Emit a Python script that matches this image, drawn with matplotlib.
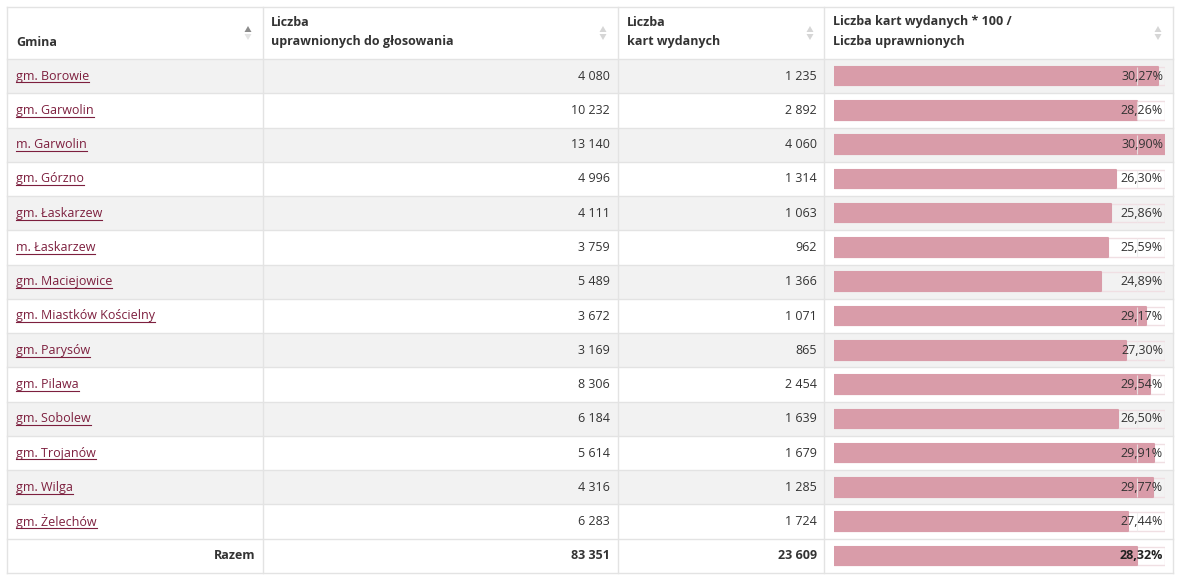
import matplotlib
matplotlib.use('Agg')
import matplotlib.pyplot as plt
from matplotlib.patches import Rectangle, Polygon
from matplotlib.lines import Line2D

plt.rcParams['font.family'] = ['Open Sans', 'DejaVu Sans']

# ---------------- data ----------------
gminy = ["gm. Borowie", "gm. Garwolin", "m. Garwolin", "gm. Górzno", "gm. Łaskarzew",
         "m. Łaskarzew", "gm. Maciejowice", "gm. Miastków Kościelny", "gm. Parysów",
         "gm. Pilawa", "gm. Sobolew", "gm. Trojanów", "gm. Wilga", "gm. Żelechów"]
uprawnieni = [4080, 10232, 13140, 4996, 4111, 3759, 5489, 3672, 3169, 8306, 6184, 5614, 4316, 6283]
karty = [1235, 2892, 4060, 1314, 1063, 962, 1366, 1071, 865, 2454, 1639, 1679, 1285, 1724]
frekwencja = [30.27, 28.26, 30.90, 26.30, 25.86, 25.59, 24.89, 29.17, 27.30, 29.54,
              26.50, 29.91, 29.77, 27.44]
razem_label = "Razem"
razem_uprawnieni = 83351
razem_karty = 23609
razem_frekwencja = 28.32
naglowki = [["Gmina"],
            ["Liczba", "uprawnionych do głosowania"],
            ["Liczba", "kart wydanych"],
            ["Liczba kart wydanych * 100 /", "Liczba uprawnionych"]]

# ---------------- layout ----------------
W, H = 1199, 585
fig = plt.figure(figsize=(W / 100, H / 100), dpi=100)
ax = fig.add_axes([0, 0, 1, 1])
ax.set_xlim(0, W)
ax.set_ylim(H, 0)
ax.axis('off')

col_x = [7, 263, 618, 824, 1173]
top, head_bot, bottom = 7, 59, 573
n_rows = len(gminy) + 1
row_h = (bottom - head_bot) / n_rows

grey = '#f2f2f2'
line_c = '#e3e3e3'
text_c = '#333333'
link_c = '#7d1f3e'
bar_c = '#d99ca9'
fs = 9.0

# row backgrounds
for i in range(n_rows):
    y0 = head_bot + i * row_h
    if i % 2 == 0 and i < len(gminy):
        ax.add_patch(Rectangle((col_x[0], y0), col_x[-1] - col_x[0], row_h,
                               facecolor=grey, edgecolor='none', zorder=0))

# grid lines
for i in range(n_rows + 1):
    y = head_bot + i * row_h
    ax.plot([col_x[0], col_x[-1]], [y, y], color=line_c, lw=1, zorder=1)
ax.plot([col_x[0], col_x[-1]], [top, top], color=line_c, lw=1, zorder=1)
for x in col_x:
    ax.plot([x, x], [top, bottom], color=line_c, lw=1, zorder=1)

# headers
hx = [16, 271, 627, 833]
for j, lines in enumerate(naglowki):
    if len(lines) == 1:
        ax.text(hx[j], 42, lines[0], ha='left', va='center', fontsize=fs,
                fontweight='bold', color=text_c)
    else:
        ax.text(hx[j], 22, lines[0], ha='left', va='center', fontsize=fs,
                fontweight='bold', color=text_c)
        ax.text(hx[j], 42, lines[1], ha='left', va='center', fontsize=fs,
                fontweight='bold', color=text_c)

# sort icons
icon_x = [248, 603, 810, 1158]
for j, xi in enumerate(icon_x):
    up_c = '#8c8c8c' if j == 0 else '#d6d6d6'
    dn_c = '#e4e4e4' if j == 0 else '#d6d6d6'
    ax.add_patch(Polygon([[xi - 3.5, 32], [xi + 3.5, 32], [xi, 26]], closed=True,
                         facecolor=up_c, edgecolor='none', zorder=3))
    ax.add_patch(Polygon([[xi - 3.5, 34], [xi + 3.5, 34], [xi, 40]], closed=True,
                         facecolor=dn_c, edgecolor='none', zorder=3))

def fmt_int(n):
    return f"{n:,}".replace(',', ' ')

def fmt_pct(v):
    return f"{v:.2f}".replace('.', ',') + '%'

# ---------------- bar column ----------------
bx0, bx1 = 834, 1165
axb = fig.add_axes([bx0 / W, 1 - bottom / H, (bx1 - bx0) / W, (bottom - head_bot) / H])
axb.patch.set_alpha(0)
axb.axis('off')
vmax = max(frekwencja)
axb.set_xlim(0, vmax)
axb.set_ylim(n_rows, 0)
bh = 18.5 / row_h
pos = [i + 0.5 for i in range(len(gminy))]
axb.barh(pos + [len(gminy) + 0.5], [vmax] * n_rows, height=bh, left=0,
         facecolor='none', edgecolor='#f0dfe3', linewidth=1.0, zorder=1)
axb.barh(pos, frekwencja, height=bh, color=bar_c, edgecolor=bar_c,
         linewidth=1.5, joinstyle='round', zorder=2)
axb.barh([len(gminy) + 0.5], [razem_frekwencja], height=bh, color=bar_c,
         edgecolor=bar_c, linewidth=1.5, joinstyle='round', zorder=2)
axb.vlines([razem_frekwencja] * len(gminy), [p - bh / 2 for p in pos],
           [p + bh / 2 for p in pos], color='#ececec', lw=0.8, alpha=0.8, zorder=3)

# body text
link_texts = []
for i, g in enumerate(gminy):
    yc = head_bot + (i + 0.5) * row_h
    t = ax.text(16, yc, g, ha='left', va='center', fontsize=fs, color=link_c, zorder=4)
    link_texts.append((t, yc))
    ax.text(610, yc, fmt_int(uprawnieni[i]), ha='right', va='center', fontsize=fs,
            color=text_c, zorder=4)
    ax.text(817, yc, fmt_int(karty[i]), ha='right', va='center', fontsize=fs,
            color=text_c, zorder=4)
    axb.text(1163, yc, fmt_pct(frekwencja[i]), ha='right', va='center', fontsize=fs,
             color=text_c, zorder=6, transform=ax.transData)

yc = head_bot + (len(gminy) + 0.5) * row_h
ax.text(255, yc, razem_label, ha='right', va='center', fontsize=fs, fontweight='bold', color=text_c)
ax.text(610, yc, fmt_int(razem_uprawnieni), ha='right', va='center', fontsize=fs,
        fontweight='bold', color=text_c)
ax.text(817, yc, fmt_int(razem_karty), ha='right', va='center', fontsize=fs,
        fontweight='bold', color=text_c)
axb.text(1163, yc, fmt_pct(razem_frekwencja), ha='right', va='center', fontsize=fs,
         fontweight='bold', color='#222222', zorder=6, transform=ax.transData)

# underline links
fig.canvas.draw()
r = fig.canvas.get_renderer()
inv = ax.transData.inverted()
for t, ycen in link_texts:
    bb = t.get_window_extent(renderer=r)
    (x0, _), (x1, _) = inv.transform([[bb.x0, bb.y0], [bb.x1, bb.y1]])
    yb = ycen + 6.3
    ax.add_line(Line2D([x0, x1], [yb, yb], color=link_c, lw=0.8, zorder=4))

fig.savefig('out.png', dpi=100)
